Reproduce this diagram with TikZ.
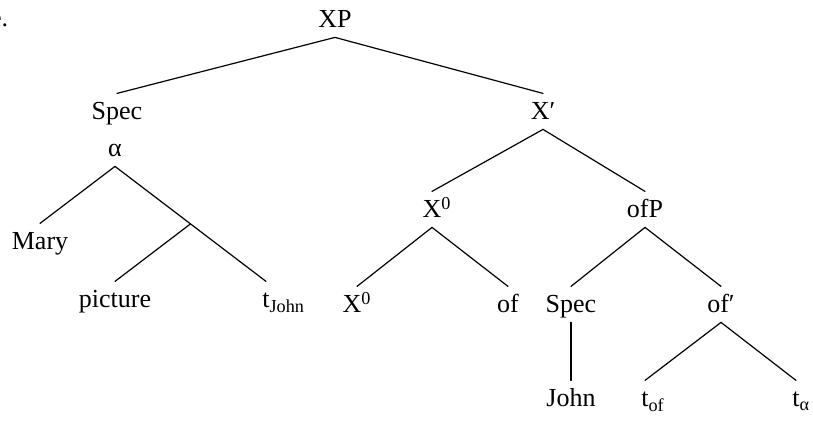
\documentclass[tikz,border=0pt]{standalone}
\usepackage{fontspec}
\setmainfont{Liberation Serif}
\usetikzlibrary{calc}
\tikzset{
  lbl/.style={inner xsep=0pt, inner ysep=4.5pt, text height=8.6pt, text depth=0pt,
    font=\fontsize{13}{15}\selectfont, anchor=base},
  branch/.style={line width=0.6pt, line cap=round},
}
% trace with its index hanging to the right
\newcommand{\trc}[1]{t\rlap{\textsubscript{#1}}}

\begin{document}
\begin{tikzpicture}[x=0.5pt, y=-0.5pt]
  \useasboundingbox (0,0) rectangle (813,421);
  \node[lbl, anchor=base east] (exnum) at (8.5,27) {e.};
  % top projection
  \node[lbl] (xp) at (335,28) {XP};
  \node[lbl] (specA) at (117,120) {Spec};
  \node[lbl] (alpha) at (115,157) {α};
  \node[lbl] (xbar) at (543,120) {X′};
  % the moved phrase
  \node[lbl] (mary) at (40,250) {Mary};
  \node[lbl] (pict) at (115,308) {picture};
  \node[lbl] (tjohn) at (266,308) {\trc{John}};
  % the head and its complement
  \node[lbl] (xzu) at (432,218) {X\rlap{\textsuperscript{0}}};
  \node[lbl] (ofp) at (645,218) {ofP};
  \node[lbl] (xzl) at (357,313) {X\textsuperscript{0}};
  \node[lbl] (of) at (508,313) {of};
  \node[lbl] (specB) at (571,313) {Spec};
  \node[lbl] (ofbar) at (721,313) {of′};
  \node[lbl] (john) at (571,407) {John};
  \node[lbl] (tof) at (645,407) {\trc{of}};
  \node[lbl] (talpha) at (796,407) {\trc{α}};

  \draw[branch] (specA.north) -- (xp.south) -- (xbar.north);
  \draw[branch] (mary.north) -- (alpha.south) -- (tjohn.north) coordinate[pos=0.5] (br);
  \draw[branch] (br) -- (pict.north);
  \draw[branch] (xzu.north) -- (xbar.south) -- (ofp.north);
  \draw[branch] (xzl.north) -- (xzu.south) -- (of.north);
  \draw[branch] (specB.north) -- (ofp.south) -- (ofbar.north);
  \draw[branch] (specB.south) -- (john.north);
  \draw[branch] (tof.north) -- (ofbar.south) -- (talpha.north);
\end{tikzpicture}
\end{document}
